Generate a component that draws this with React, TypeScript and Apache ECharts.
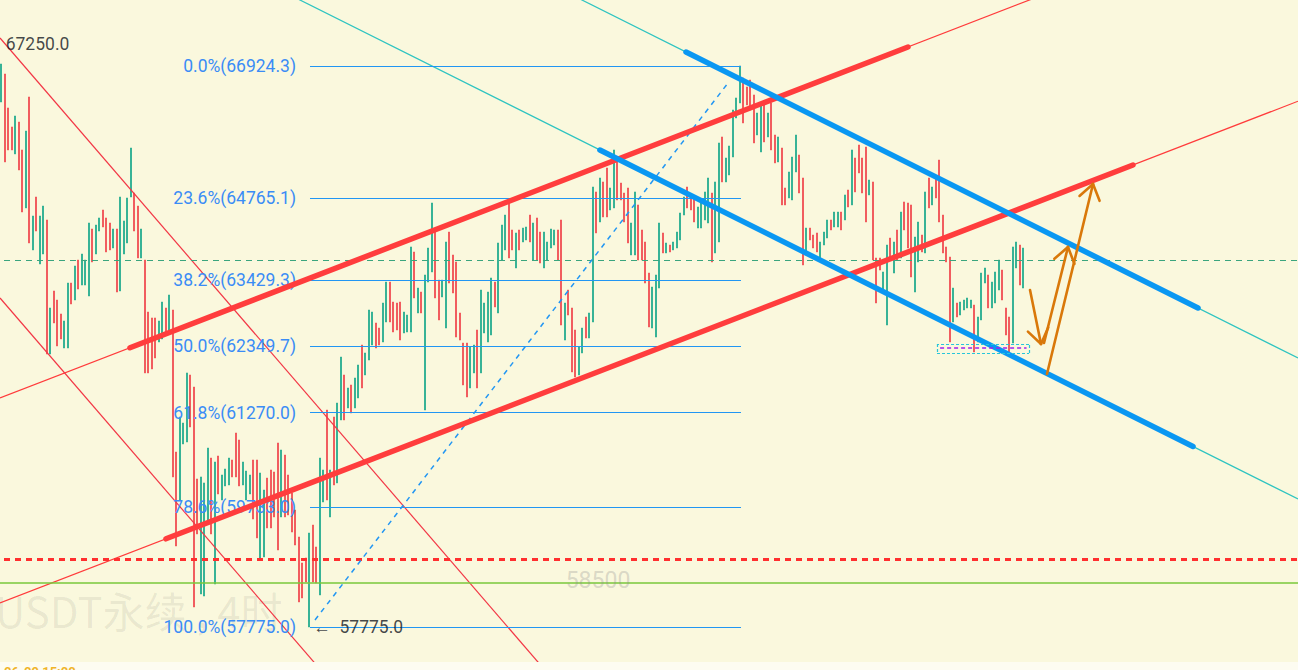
import React, { useEffect, useRef } from 'react';
import * as echarts from 'echarts';

// ---- axis ranges (price / candle index) ----
const Y_MIN = 57073.7;
const Y_MAX = 68000.7;
const X_MIN = -0.3;
const X_MAX = 370.557;

// ---- candles: [open, close] (4h bars) ----
const candles: [number, number][] = [
  [66337,66957],[66794,65359],[66240,65555],[65930,65555],[65490,66109],[66011,65228],[65555,64543],[64609,65864],[66419,64038],[63924,64478],
  [64788,64233],[63695,64478],[63858,64641],[64413,62227],[62227,62978],[63255,62733],[63108,62358],[62880,62472],[62325,62766],[62325,63385],
  [63385,63043],[63108,63663],[63760,63287],[63352,63858],[63352,63760],[63173,64364],[64266,63728],[63858,64331],[64233,64446],[64576,64299],
  [64446,63891],[64364,63924],[63956,64266],[64266,63238],[63255,64788],[63858,64397],[64038,64772],[64788,65587],[64853,64233],[64641,63793],
  [63793,64266],[63760,61918],[62912,61918],[62815,61983],[62815,62162],[62423,62766],[62472,63075],[62978,62537],[62603,63190],[62945,60222],
  [60629,59096],[59846,61200],[60760,61102],[60792,61918],[61885,61037],[61689,58101],[60189,59292],[58313,60222],[58280,60124],[59471,60694],
  [60531,59292],[58476,60466],[60564,59944],[59846,60254],[60075,60352],[60091,60531],[60499,60222],[60939,60222],[60825,60075],[60091,60466],
  [59846,60319],[59944,60254],[60499,59536],[60499,59227],
  [58901,60287],[58917,60009],[60205,59390],[60336,59390],[60303,59569],[60776,59031],
  [59569,60662],[60580,59569],[60254,59602],[59960,59324],[59683,59112],[59243,58183],[58819,58248],[58901,58509],[57775,59308],[59438,58509],
  [59080,58493],[58297,60531],[59814,60336],[61314,59846],[59569,60336],[61200,60091],[60124,61428],[61151,62178],[61885,61151],[61347,61673],
  [61722,61265],[61347,61836],[61510,62048],[62374,61673],[61885,62244],[62129,62945],[62374,62912],[62733,62325],[62651,62374],[62423,63059],
  [62749,63401],[63401,62749],[63075,62586],[63059,62619],[63075,62455],[62570,62912],[62586,62863],[62586,63973],[63891,63141],[62896,63303],
  [63238,62896],[61314,63516],[63401,63956],[63565,64690],[64250,63141],[63433,62782],[63157,63433],[62651,64054],[64217,63385],[63842,63222],
  [63728,62504],[62896,62455],[62406,61722],[62406,61526],[61673,62341],[61918,62374],[62619,61673],[61918,63271],[62570,63059],[62423,63238],
  [62537,63467],[63401,62994],[62896,64038],[63760,64331],[63924,64494],[64707,63793],[64250,63924],[63630,64201],[64250,63924],
  [64054,64282],
  [64087,64299],[64494,64054],[63760,64364],[64446,63760],[64217,63711],[63630,64217],[63760,64054],[63956,64266],[64005,64250],[64250,63760],
  [64413,62700],[62455,63059],[63271,62863],[62978,61934],[62619,61852],[61885,62341],[62244,62651],[62831,62488],[62488,62896],[62749,64951],
  [64870,64201],[64380,65098],[65033,64462],[65261,64462],[64576,64935],[64609,65555],[65391,64739],[65016,64739],[64853,64380],[64935,64038],
  [63842,64364],[63842,64870],[64658,63760],[64250,63760],[64054,63385],[63548,62668],[62651,63320],[62504,63516],[63303,64364],[64201,63875],
  [63875,64038],[64005,63891],[63924,64054],[63956,64217],[64087,64527],[64494,64788],[64951,64609],[64788,64576],[64788,64380],[64282,64625],
  [64282,64739],[64413,64870],[64364,65098],[64853,63728],[63875,65033],[64054,65669],[65767,65033],[65033,65424],[65147,65620],[65440,66207],
  [66076,66403],[66321,66925],[66729,65995],[66582,66289],[66696,66207],[66452,65669],[65799,66158],[65522,66289],[66289,65685],[65767,66158],
  [66321,65555],[65799,65343],[65359,65767],[65587,64658],[64935,64658],[64772,65196],[64739,65440],[65196,65799],[65473,64853],[65098,63679],
  [63842,64282],[64282,64087],[64168,63956],[64201,63891],[63760,64054],[64005,64217],[64119,64413],[64413,64250],[64299,64543],[64299,64543],
  [64543,64250],[64413,64821],[64902,64625],[64658,65555],[65424,64870],[65636,65180],[65424,64853],[65603,64380],[64821,65065],[65033,63760],
  [63793,63059],[63793,63597],[63271,63565],[62700,64005],[64119,63760],[63548,64054],[64250,63760],[63793,64543],[64707,64250],[64690,63956],
  [64658,63483],[63238,64135],[63728,64380],[64168,63891],[63875,64870],[65098,64609],[64658,64951],[65098,64772],[65391,64380],[64494,63875],
  [63973,63728],[63809,62423],[62749,63303],[63059,62831],[62863,63075],[62945,63108],[62978,63141],[62978,63108],[63026,62260],[62423,62831],
  [62782,63548],[63385,63630],[63516,62978],[62978,63401],[63059,63565],[63271,63760],[63597,63108],[62978,62537],[62831,62260],[62406,63973],
  [63630,64054],[64005,63352],[63303,63956],
];

// ---- Fibonacci retracement ----
const fibLabels = ['0.0%(66924.3)', '23.6%(64765.1)', '38.2%(63429.3)', '50.0%(62349.7)', '61.8%(61270.0)', '78.6%(59733.0)', '100.0%(57775.0)'];
const fibPrices = [66924.3, 64765.1, 63429.3, 62349.7, 61270.0, 59733.0, 57775.0];
const fibFrom = 88.27;
const fibTo = 211.41;
const fibTrend = [89.7, 57889.1, 207.7, 66647.1];

// ---- drawings [x1, price1, x2, price2] ----
const redThin = [[-0.3, 61509.7, 314.0, 68445.9], [-0.3, 58166.4, 370.56, 66350.2]];
const redThick = [[36.84, 62330.1, 259.13, 67234.2], [47.13, 59213.4, 323.41, 65309.7]];
const blueThin = [[159.7, 68180.1, 370.56, 62162.1], [79.7, 68163.8, 370.56, 59862.5]];
const blueThick = [[195.7, 67152.6, 341.99, 62977.5], [171.1, 65554.3, 340.56, 60718.7]];
const redDiag = [[-0.3, 67381.0, 159.7, 56786.6], [-0.3, 63140.6, 94.0, 56897.5]];

// horizontal levels
const levelGreenDashed = 63760.4;
const levelRedDotted = 58884.0;
const levelGreenSolid = 58500;

// arrows: tail, tip, wing1, wing2
const arrowTail = [[293.99, 63271.1], [297.99, 62406.7], [298.84, 61901.1]];
const arrowTip = [[297.13, 62390.4], [304.84, 63972.4], [311.99, 64999.8]];
const arrowWingA = [[299.19, 62659.5], [300.96, 63780.0], [308.13, 64805.6]];
const arrowWingB = [[293.39, 62592.6], [306.67, 63698.5], [313.87, 64725.8]];

// small box near lows
const boxX = [267.41, 293.71];
const boxY = [62243.6, 62390.4];
const purpleLine = [268.3, 293.0, 62330.1];

// text marks
const textMarks = [
  { name: '67250.0', value: [0.9, 67283], color: '#131722', size: 17.5, pos: 'right' },
  { name: '←  57775.0', value: [88.8, 57775], color: '#131722', size: 17.5, pos: 'right' },
  { name: '58500', value: [170.56, 58541], color: 'rgba(140,140,140,0.38)', size: 23, pos: 'inside' },
];

const GREEN = '#22ab8e';
const RED = '#f04b50';
const BG = '#faf8dd';

function seg(a: number[], style: any) {
  return { coords: [[a[0], a[1]], [a[2], a[3]]], lineStyle: { opacity: 1, ...style } };
}

export default function App() {
  const ref = useRef<HTMLDivElement>(null);
  useEffect(() => {
    document.body.style.margin = '0';
    document.body.style.background = BG;
    const chart = echarts.init(ref.current!, null, { renderer: 'svg' });

    const full = [X_MIN - 2, X_MAX + 2];
    const thinLines: any[] = [];
    redThin.forEach((s) => thinLines.push(seg(s, { color: '#ff3b3b', width: 1.2 })));
    blueThin.forEach((s) => thinLines.push(seg(s, { color: '#2ec4c0', width: 1.2 })));
    redDiag.forEach((s) => thinLines.push(seg(s, { color: '#f23645', width: 1.2 })));
    thinLines.push(seg([full[0], levelGreenDashed, full[1], levelGreenDashed], { color: '#3aa57e', width: 1, type: [6, 5] }));
    thinLines.push(seg([full[0], levelRedDotted, full[1], levelRedDotted], { color: '#ff2f2f', width: 3, type: [6, 5] }));
    thinLines.push(seg([full[0], levelGreenSolid, full[1], levelGreenSolid], { color: '#79c83a', width: 1.5 }));
    thinLines.push(seg(fibTrend, { color: '#2196f3', width: 1.5, type: [5, 5] }));

    const fibLines = fibPrices.map((p, i) => ({
      coords: [[fibFrom, p], [fibTo, p]],
      lineStyle: { color: '#2196f3', width: 1.2, opacity: 1 },
      label: {
        show: true,
        position: 'start',
        distance: 14,
        formatter: fibLabels[i],
        color: '#3a8cf6',
        fontSize: 17.5,
        fontFamily: 'Roboto',
      },
    }));

    const thick: any[] = [];
    redThick.forEach((s) => thick.push(seg(s, { color: '#ff3d3d', width: 5.5, cap: 'round' })));
    blueThick.forEach((s) => thick.push(seg(s, { color: '#0a97f2', width: 5.5, cap: 'round' })));

    const boxStyle = { color: '#26c6da', width: 1.2, type: [3, 2] };
    const box = [
      seg([boxX[0], boxY[0], boxX[1], boxY[0]], boxStyle),
      seg([boxX[1], boxY[0], boxX[1], boxY[1]], boxStyle),
      seg([boxX[1], boxY[1], boxX[0], boxY[1]], boxStyle),
      seg([boxX[0], boxY[1], boxX[0], boxY[0]], boxStyle),
      seg([purpleLine[0], purpleLine[2], purpleLine[1], purpleLine[2]], { color: '#a020f0', width: 1.5, type: [4, 3] }),
    ];

    const arrowStyle = { color: '#d9780a', width: 2.6, cap: 'round' };
    const arrows: any[] = [];
    arrowTip.forEach((tip, i) => {
      arrows.push(seg([arrowTail[i][0], arrowTail[i][1], tip[0], tip[1]], arrowStyle));
      arrows.push(seg([arrowWingA[i][0], arrowWingA[i][1], tip[0], tip[1]], arrowStyle));
      arrows.push(seg([arrowWingB[i][0], arrowWingB[i][1], tip[0], tip[1]], arrowStyle));
    });

    const linesBase = { type: 'lines', coordinateSystem: 'cartesian2d', silent: true, lineStyle: { opacity: 1 } };

    const option: any = {
      animation: false,
      backgroundColor: BG,
      grid: { left: 0, right: 0, top: 0, bottom: 0 },
      xAxis: { type: 'value', min: X_MIN, max: X_MAX, show: false },
      yAxis: { type: 'value', min: Y_MIN, max: Y_MAX, show: false },
      graphic: [
        {
          type: 'text',
          x: -5,
          y: 588,
          z: 0,
          silent: true,
          style: {
            text: 'USDT永续 , 4时',
            font: '42px "Noto Sans CJK SC", "Noto Sans", sans-serif',
            fill: 'rgba(0,0,0,0.07)',
          },
        },
        {
          type: 'rect',
          z: 100,
          shape: { x: 0, y: 662, width: 1298, height: 10 },
          style: { fill: '#fdfcf1' },
        },
        {
          type: 'text',
          x: 4,
          y: 665,
          z: 101,
          style: { text: '06-09 15:00', font: 'bold 13px Roboto', fill: '#f0b429' },
        },
      ],
      series: [
        {
          type: 'candlestick',
          z: 2,
          barWidth: 1.4,
          encode: { x: 0, y: [1, 2, 3, 4] },
          data: candles.map(([o, c], i) => [i, o, c, Math.min(o, c), Math.max(o, c)]),
          itemStyle: { color: GREEN, color0: RED, borderColor: GREEN, borderColor0: RED, borderWidth: 0.8 },
        },
        { ...linesBase, z: 3, data: thinLines },
        { ...linesBase, z: 4, data: fibLines },
        { ...linesBase, z: 5, data: thick },
        { ...linesBase, z: 6, data: box },
        { ...linesBase, z: 7, data: arrows },
        {
          type: 'scatter',
          z: 8,
          silent: true,
          symbolSize: 1,
          itemStyle: { color: 'rgba(0,0,0,0)' },
          data: textMarks.map((t) => ({
            name: t.name,
            value: t.value,
            label: {
              show: true,
              position: t.pos,
              distance: 1,
              formatter: '{b}',
              color: t.color,
              fontSize: t.size,
              fontFamily: 'Roboto',
            },
          })),
        },
      ],
    };
    chart.setOption(option);
    return () => chart.dispose();
  }, []);
  return <div ref={ref} style={{ width: 1298, height: 670 }} />;
}
